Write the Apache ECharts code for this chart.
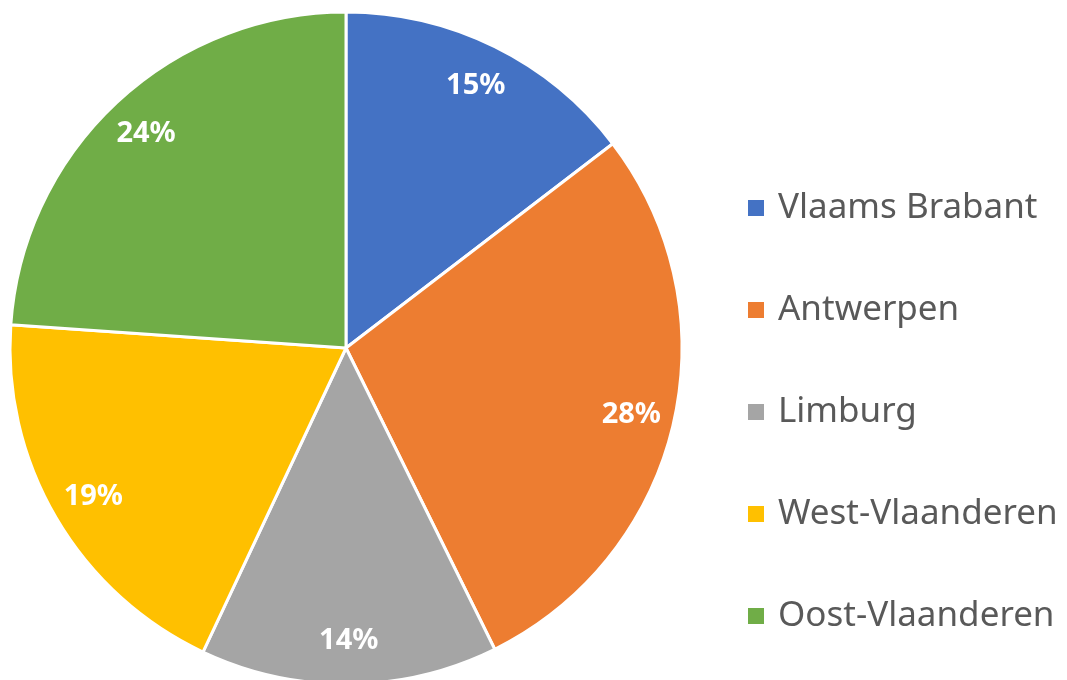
<!DOCTYPE html>
<html>
<head>
<meta charset="utf-8">
<script src="https://cdn.jsdelivr.net/npm/echarts@6/dist/echarts.min.js"></script>
<style>
    html, body {margin: 0; padding: 0; background: #fff;}
    #main {width: 1067px; height: 680px;}
</style>
</head>
<body>
<div id="main"></div>
<script>
    var provinces = ['Vlaams Brabant', 'Antwerpen', 'Limburg', 'West-Vlaanderen', 'Oost-Vlaanderen'];
    var shares = [14.6, 28.1, 14.3, 19.1, 23.9];
    var colors = ['#4472C4', '#ED7D31', '#A5A5A5', '#FFC000', '#70AD47'];

    var pieData = provinces.map(function (name, i) {
        return {name: name, value: shares[i], itemStyle: {color: colors[i]}};
    });

    (function (charts) {
        charts.setOption({
            animation: false,
            legend: {
                orient: 'vertical', left: 741, top: 183,
                data: provinces, icon: 'rect',
                itemWidth: 18, itemHeight: 18, itemGap: 62,
                textStyle: {
                    fontFamily: 'Noto Sans', fontSize: 35, color: '#595959',
                    lineHeight: 40, padding: [0, 0, 0, 8]
                }
            },
            series: [
                {
                    type: 'pie', center: [346, 348], radius: 336,
                    startAngle: 90, clockwise: true,
                    itemStyle: {borderColor: '#fff', borderWidth: 3},
                    label: {show: false}, labelLine: {show: false},
                    emphasis: {disabled: true},
                    data: pieData
                },
                {
                    // doorzichtige ring, enkel voor de plaatsing van de labels
                    type: 'pie', center: [346, 348], radius: [244, 336],
                    startAngle: 90, clockwise: true, silent: true,
                    itemStyle: {color: 'rgba(0,0,0,0)', borderWidth: 0},
                    label: {
                        show: true, position: 'inside', color: '#fff',
                        fontFamily: 'Noto Sans', fontWeight: 'bold', fontSize: 29,
                        formatter: function (p) {
                            return Math.round(p.percent) + '%';
                        }
                    },
                    labelLine: {show: false},
                    emphasis: {disabled: true},
                    data: pieData.map(function (d) {
                        return {name: d.name, value: d.value};
                    })
                }
            ]
        });
    })(echarts.init(document.getElementById('main')));
</script>
</body>
</html>
